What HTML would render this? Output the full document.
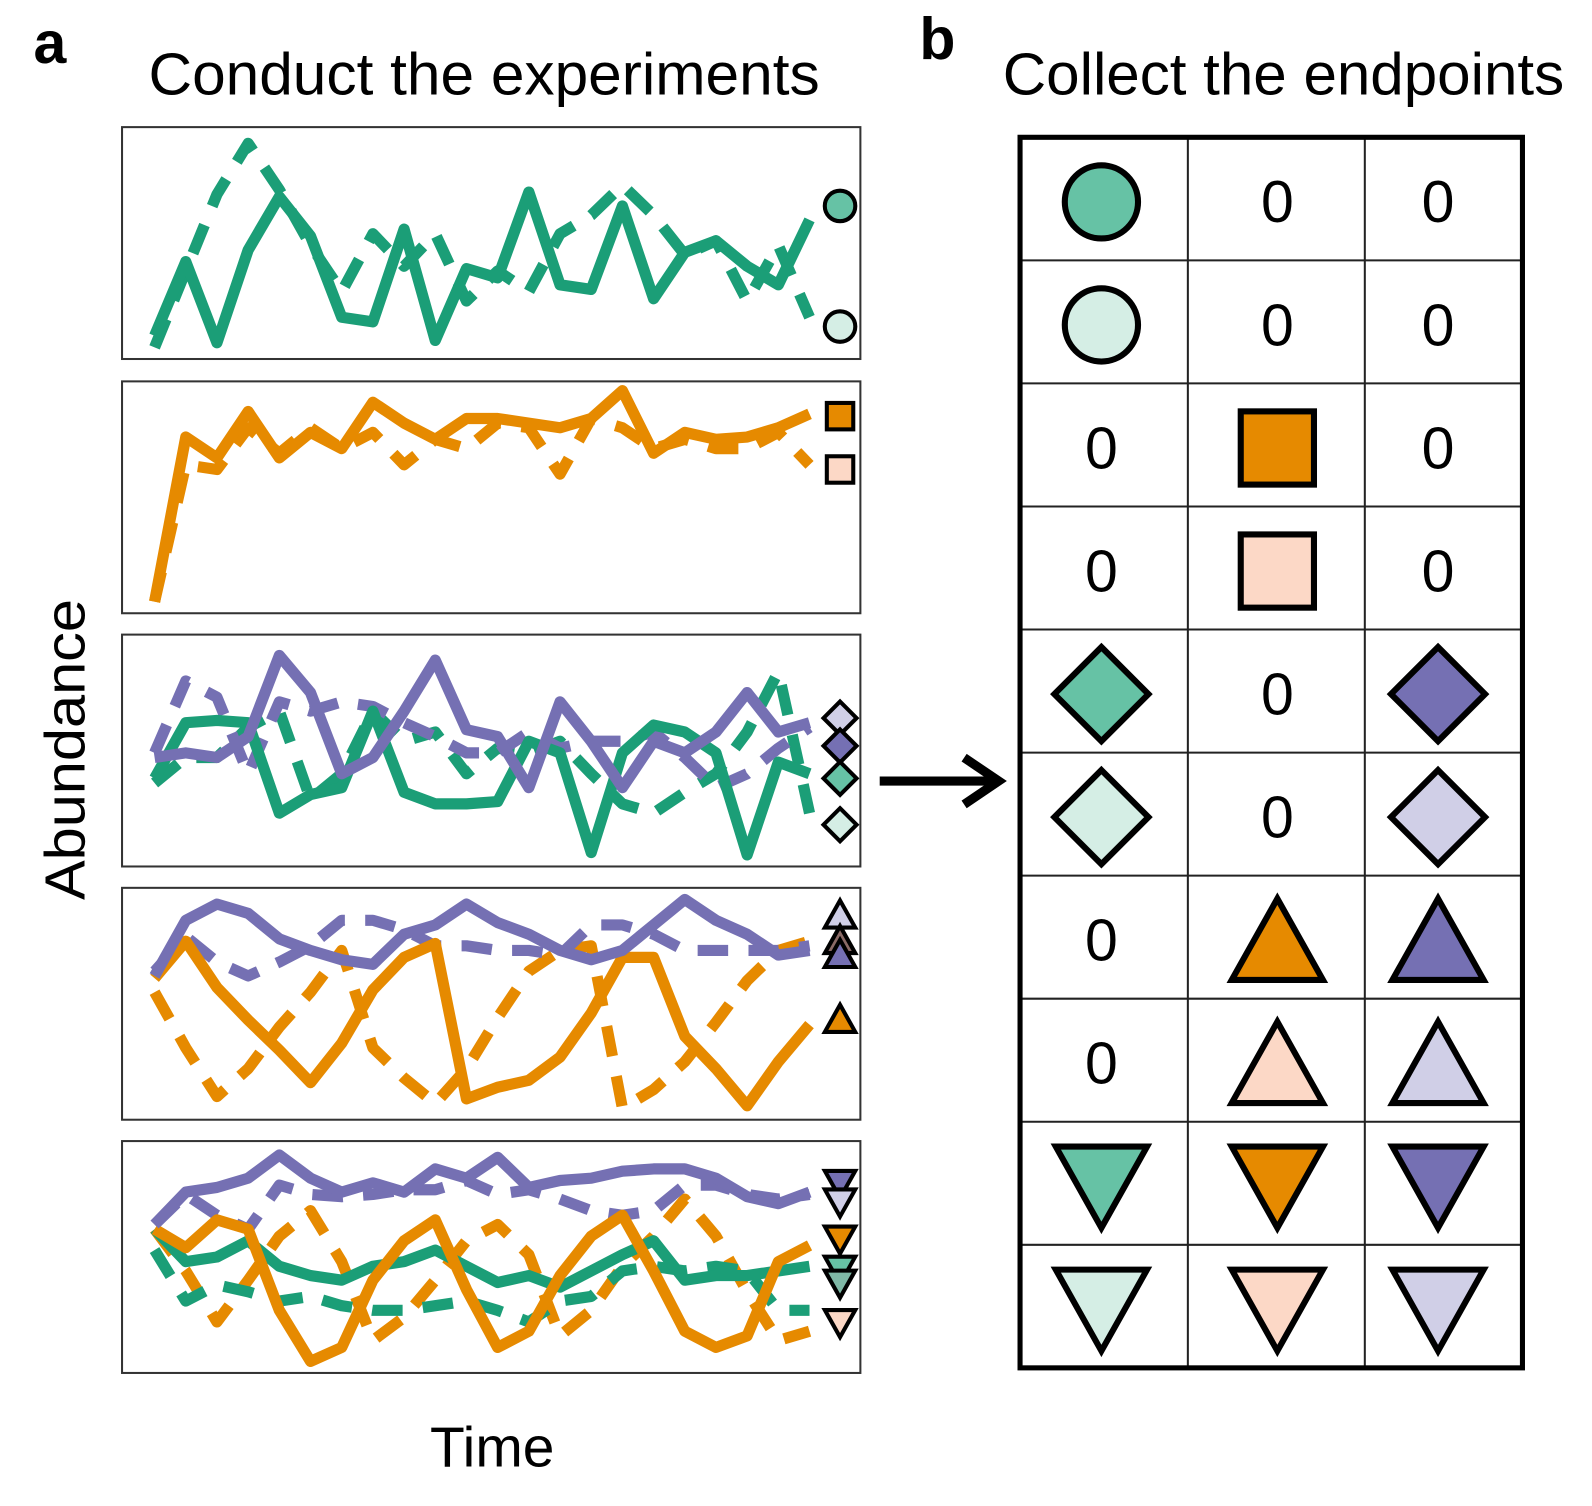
<!DOCTYPE html>
<html><head><meta charset="utf-8"><style>
body{margin:0;background:#fff}
svg{display:block;font-family:"Liberation Sans",sans-serif}
</style></head><body>
<svg id="fig" width="1592" height="1506" viewBox="0 0 1592 1506">
<g transform="scale(1.017)">
<text x="33" y="62" font-size="58" font-weight="bold">a</text>
<text x="904" y="58" font-size="58" font-weight="bold">b</text>
<text x="476" y="93" font-size="58" text-anchor="middle" textLength="660" lengthAdjust="spacingAndGlyphs">Conduct the experiments</text>
<text x="1262" y="93" font-size="58" text-anchor="middle" textLength="552" lengthAdjust="spacingAndGlyphs">Collect the endpoints</text>
<text transform="translate(83,737) rotate(-90)" font-size="56" text-anchor="middle" textLength="296" lengthAdjust="spacingAndGlyphs">Abundance</text>
<text x="484" y="1442" font-size="56" text-anchor="middle">Time</text>
<g id="panels"></g>
<g id="arrow">
<line x1="865" y1="768" x2="978" y2="768" stroke="#000" stroke-width="9"/>
<polyline points="948,745 982,768 948,791" fill="none" stroke="#000" stroke-width="9"/>
</g>
<g id="table"></g>
</g>
</svg>
<script>
const NS="http://www.w3.org/2000/svg";
const G="#1b9e77",O="#e68a00",P="#7570b3";
const GD="#66c2a5",GL="#d5eee5",OL="#fcd8c6",PL="#d0cfe7";
const timePoints=22;
// panel 1
const p1GreenSolid=[0.10,0.42,0.07,0.47,0.70,0.53,0.18,0.16,0.56,0.08,0.39,0.35,0.72,0.32,0.30,0.66,0.26,0.46,0.51,0.40,0.32,0.60];
const p1GreenDashed=[0.05,0.38,0.71,0.93,0.73,0.49,0.29,0.54,0.40,0.54,0.25,0.38,0.29,0.54,0.62,0.75,0.62,0.45,0.51,0.25,0.49,0.18];
// panel 2
const p2OrangeSolid=[0.05,0.76,0.67,0.87,0.67,0.78,0.71,0.91,0.82,0.75,0.84,0.84,0.82,0.80,0.84,0.96,0.69,0.78,0.75,0.76,0.80,0.86];
const p2OrangeDashed=[0.05,0.64,0.62,0.80,0.69,0.80,0.71,0.78,0.64,0.75,0.71,0.82,0.80,0.60,0.84,0.80,0.71,0.75,0.71,0.71,0.78,0.64];
// panel 3
const p3GreenSolid=[0.38,0.62,0.63,0.62,0.23,0.31,0.34,0.67,0.32,0.27,0.27,0.28,0.54,0.49,0.06,0.49,0.61,0.58,0.49,0.05,0.45,0.40];
const p3GreenDashed=[0.36,0.47,0.47,0.60,0.67,0.29,0.40,0.67,0.54,0.58,0.40,0.51,0.49,0.54,0.40,0.27,0.23,0.32,0.40,0.58,0.84,0.23];
const p3PurpleSolid=[0.47,0.49,0.47,0.56,0.91,0.75,0.40,0.47,0.67,0.89,0.59,0.56,0.34,0.71,0.54,0.34,0.54,0.49,0.58,0.75,0.58,0.62];
const p3PurpleDashed=[0.49,0.80,0.73,0.40,0.71,0.67,0.71,0.69,0.62,0.56,0.49,0.49,0.58,0.51,0.54,0.54,0.58,0.47,0.34,0.40,0.51,0.60];
// panel 4
const p4PurpleSolid=[0.62,0.86,0.93,0.89,0.78,0.73,0.69,0.67,0.80,0.84,0.93,0.85,0.80,0.73,0.69,0.73,0.84,0.95,0.86,0.80,0.71,0.73];
const p4PurpleDashed=[0.64,0.79,0.68,0.62,0.68,0.75,0.86,0.86,0.82,0.75,0.75,0.73,0.73,0.71,0.84,0.84,0.80,0.73,0.73,0.73,0.73,0.75];
const p4OrangeSolid=[0.61,0.77,0.57,0.43,0.30,0.16,0.33,0.56,0.70,0.76,0.09,0.14,0.17,0.27,0.46,0.70,0.70,0.36,0.22,0.06,0.25,0.41];
const p4OrangeDashed=[0.55,0.31,0.10,0.22,0.40,0.55,0.73,0.31,0.18,0.07,0.22,0.44,0.64,0.73,0.75,0.05,0.13,0.25,0.42,0.60,0.73,0.77];
// panel 5
const p5PurpleSolid=[0.64,0.78,0.80,0.84,0.94,0.84,0.78,0.82,0.78,0.88,0.84,0.93,0.80,0.83,0.84,0.87,0.88,0.88,0.84,0.76,0.73,0.78];
const p5PurpleDashed=[0.64,0.77,0.68,0.62,0.81,0.77,0.76,0.77,0.79,0.79,0.83,0.77,0.79,0.75,0.70,0.68,0.70,0.81,0.81,0.77,0.75,0.77];
const p5OrangeSolid=[0.62,0.54,0.66,0.62,0.27,0.05,0.11,0.40,0.57,0.66,0.36,0.11,0.18,0.42,0.59,0.68,0.44,0.18,0.11,0.16,0.48,0.55];
const p5OrangeDashed=[0.62,0.44,0.22,0.40,0.59,0.70,0.48,0.14,0.24,0.40,0.57,0.64,0.51,0.16,0.27,0.46,0.59,0.75,0.59,0.35,0.14,0.18];
const p5GreenSolid=[0.62,0.48,0.50,0.57,0.46,0.42,0.40,0.46,0.48,0.53,0.46,0.39,0.42,0.37,0.44,0.51,0.57,0.40,0.42,0.42,0.44,0.46];
const p5GreenDashed=[0.53,0.31,0.38,0.35,0.31,0.33,0.29,0.27,0.27,0.29,0.31,0.27,0.22,0.31,0.33,0.44,0.46,0.44,0.46,0.44,0.27,0.27];
// endpoint markers (value on same scale)
const p1Ends=[[0.66,"circle",GD],[0.14,"circle",GL]];
const p2Ends=[[0.85,"square",O],[0.62,"square",OL]];
const p3Ends=[[0.64,"diamond",PL],[0.52,"diamond",P],[0.38,"diamond",GD],[0.18,"diamond",GL]];
const p4Ends=[[0.88,"up",PL],[0.77,"up","#8a6a66"],[0.71,"up",P],[0.43,"up",O]];
const p5Ends=[[0.82,"down",P],[0.74,"down",PL],[0.58,"down",O],[0.45,"down",GD],[0.39,"down","#7fb8a6"],[0.22,"down",OL]];
// table
const tableRows=[
 [["circle",GD],"0","0"],[["circle",GL],"0","0"],
 ["0",["square",O],"0"],["0",["square",OL],"0"],
 [["diamond",GD],"0",["diamond",P]],[["diamond",GL],"0",["diamond",PL]],
 ["0",["up",O],["up",P]],["0",["up",OL],["up",PL]],
 [["down",GD],["down",O],["down",P]],[["down",GL],["down",OL],["down",PL]]];

const panelTops=[125,375,624,873,1122];
const PH=228,PX0=120,PX1=846,TX0=152,TX1=796;
const xs=i=>TX0+(TX1-TX0)*i/(timePoints-1);
function mk(tag,attrs,parent){const e=document.createElementNS(NS,tag);for(const k in attrs)e.setAttribute(k,attrs[k]);parent.appendChild(e);return e;}
function marker(parent,type,cx,cy,s,fill,sw){
 let e;
 if(type==="circle")e=mk("circle",{cx,cy,r:s,fill,stroke:"#000","stroke-width":sw},parent);
 else if(type==="square")e=mk("rect",{x:cx-s,y:cy-s,width:2*s,height:2*s,fill,stroke:"#000","stroke-width":sw},parent);
 else if(type==="diamond")e=mk("polygon",{points:`${cx},${cy-s*1.25} ${cx+s*1.25},${cy} ${cx},${cy+s*1.25} ${cx-s*1.25},${cy}`,fill,stroke:"#000","stroke-width":sw},parent);
 else if(type==="up")e=mk("polygon",{points:`${cx},${cy-s*1.15} ${cx+s*1.15},${cy+s*0.9} ${cx-s*1.15},${cy+s*0.9}`,fill,stroke:"#000","stroke-width":sw},parent);
 else e=mk("polygon",{points:`${cx},${cy+s*1.15} ${cx+s*1.15},${cy-s*0.9} ${cx-s*1.15},${cy-s*0.9}`,fill,stroke:"#000","stroke-width":sw},parent);
 return e;
}
const panelSeries=[
 [[p1GreenDashed,G,1],[p1GreenSolid,G,0]],
 [[p2OrangeDashed,O,1],[p2OrangeSolid,O,0]],
 [[p3GreenDashed,G,1],[p3PurpleDashed,P,1],[p3GreenSolid,G,0],[p3PurpleSolid,P,0]],
 [[p4OrangeDashed,O,1],[p4PurpleDashed,P,1],[p4OrangeSolid,O,0],[p4PurpleSolid,P,0]],
 [[p5OrangeDashed,O,1],[p5GreenDashed,G,1],[p5PurpleDashed,P,1],[p5GreenSolid,G,0],[p5OrangeSolid,O,0],[p5PurpleSolid,P,0]]];
const panelEnds=[p1Ends,p2Ends,p3Ends,p4Ends,p5Ends];
const pg=document.getElementById("panels");
panelTops.forEach((top,pi)=>{
 const g=mk("g",{},pg);
 
 
 const ys=v=>top+PH-v*PH;
 const box=mk("rect",{x:PX0,y:top,width:PX1-PX0,height:PH,fill:"#fff",stroke:"#333","stroke-width":2},g);
 
 
 panelSeries[pi].forEach(([vals,col,dash])=>{
  const pts=vals.map((v,i)=>xs(i)+","+ys(v)).join(" ");
  const l=mk("polyline",{points:pts,fill:"none",stroke:col,"stroke-width":11,"stroke-linejoin":"round","stroke-dasharray":dash?"30,20":"none"},g);
  
  
 });
 panelEnds[pi].forEach(([v,t,c])=>{
  const m=marker(g,t,826,ys(v),t==="circle"?15:13,c,4);
  
  
 });
});
const tg=document.getElementById("table");
const rowY0=135,rowH=121;
const colC=[1083,1256,1414];
tableRows.forEach((row,ri)=>{
 const cy=rowY0+rowH*ri+rowH/2+3;
 if(ri>0){const l=mk("line",{x1:1003,x2:1497,y1:rowY0+rowH*ri,y2:rowY0+rowH*ri,stroke:"#222","stroke-width":2},tg);
  }
 row.forEach((cell,ci)=>{
  if(typeof cell==="string"){
   const t=mk("text",{x:colC[ci],y:cy+20,"font-size":58,"text-anchor":"middle"},tg);
   t.textContent=cell;
   
   
  } else {
   const s=cell[0]==="circle"?36:cell[0]==="square"?36:cell[0]==="diamond"?37:39;
   const m=marker(tg,cell[0],colC[ci],cell[0]==="up"?cy+4:cell[0]==="down"?cy-4:cy,s,cell[1],6);
   
   
  }
 });
});
[1168,1342].forEach(x=>{const l=mk("line",{x1:x,x2:x,y1:135,y2:1345,stroke:"#222","stroke-width":2},tg);
 });
const fr=mk("rect",{x:1003,y:135,width:494,height:1210,fill:"none",stroke:"#000","stroke-width":5},tg);


</script>
</body></html>
